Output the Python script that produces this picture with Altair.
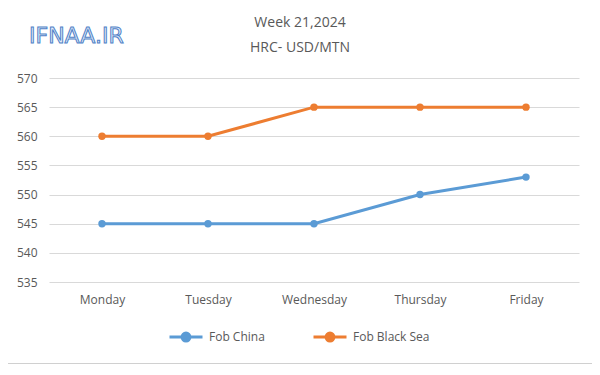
import altair as alt
import pandas as pd

days = ["Monday", "Tuesday", "Wednesday", "Thursday", "Friday"]
fob_china = [545, 545, 545, 550, 553]
fob_black_sea = [560, 560, 565, 565, 565]
series_names = ["Fob China", "Fob Black Sea"]
series_colors = ["#5b9bd5", "#ed7d31"]
y_ticks = [535, 540, 545, 550, 555, 560, 565, 570]
title_lines = ["Week 21,2024", "HRC- USD/MTN"]

rows = []
for d, v in zip(days, fob_china):
    rows.append({"day": d, "value": v, "series": series_names[0]})
for d, v in zip(days, fob_black_sea):
    rows.append({"day": d, "value": v, "series": series_names[1]})
df = pd.DataFrame(rows)

legend_path = ("M-1,0H1M0.24,0A0.24,0.24,0,1,1,-0.24,0"
               "A0.24,0.24,0,1,1,0.24,0Z")

lines = alt.Chart(df).mark_line(
    point=alt.OverlayMarkDef(filled=True, size=55), strokeWidth=3
).encode(
    x=alt.X("day:N", sort=days, title=None,
            scale=alt.Scale(type="point", padding=0.5),
            axis=alt.Axis(labelAngle=0, grid=False, ticks=False, domain=False,
                          labelPadding=12, labelFontSize=12, labelColor="#595959",
                          labelFont="Open Sans")),
    y=alt.Y("value:Q", title=None,
            scale=alt.Scale(domain=[535, 570], nice=False, zero=False),
            axis=alt.Axis(values=y_ticks, ticks=False, domain=False, gridColor="#d9d9d9",
                          labelPadding=12, labelFontSize=12, labelColor="#595959",
                          labelFont="Open Sans")),
    color=alt.Color("series:N", sort=series_names,
                    scale=alt.Scale(domain=series_names, range=series_colors),
                    legend=alt.Legend(title=None, orient="none", direction="horizontal",
                                      legendX=119, legendY=241, columnPadding=42,
                                      labelFontSize=12, labelColor="#595959",
                                      labelFont="Open Sans", symbolSize=1089,
                                      symbolType=legend_path, labelOffset=5,
                                      symbolStrokeWidth=3)),
)

brand = alt.Chart(pd.DataFrame({"t": ["IFNAA.IR"]})).mark_text(
    align="left", baseline="middle", fontSize=22, font="DejaVu Sans",
    color="#e3edf9", stroke="#4f81c7", strokeWidth=1
).encode(x=alt.value(-20), y=alt.value(-42), text="t:N")

t1 = alt.Chart(pd.DataFrame({"t": [title_lines[0]]})).mark_text(
    align="center", baseline="middle", fontSize=14, font="Open Sans", color="#595959"
).encode(x=alt.value(251), y=alt.value(-55), text="t:N")
t2 = alt.Chart(pd.DataFrame({"t": [title_lines[1]]})).mark_text(
    align="center", baseline="middle", fontSize=14, font="Open Sans", color="#595959"
).encode(x=alt.value(251), y=alt.value(-30), text="t:N")

frame = alt.Chart(pd.DataFrame({"a": [0]})).mark_rect(
    fill=None, stroke="#d0d0d0", strokeWidth=1
).encode(x=alt.value(-46.5), x2=alt.value(548.5), y=alt.value(-75.5), y2=alt.value(285.5))

chart = alt.layer(frame, lines, brand, t1, t2).properties(
    width=530, height=204,
    autosize=alt.AutoSizeParams(type="none"),
    padding={"left": 41, "top": 70, "right": 13, "bottom": 85},
).configure_view(stroke=None)

chart.save("out.html", embed_options={"renderer": "svg", "actions": False})
